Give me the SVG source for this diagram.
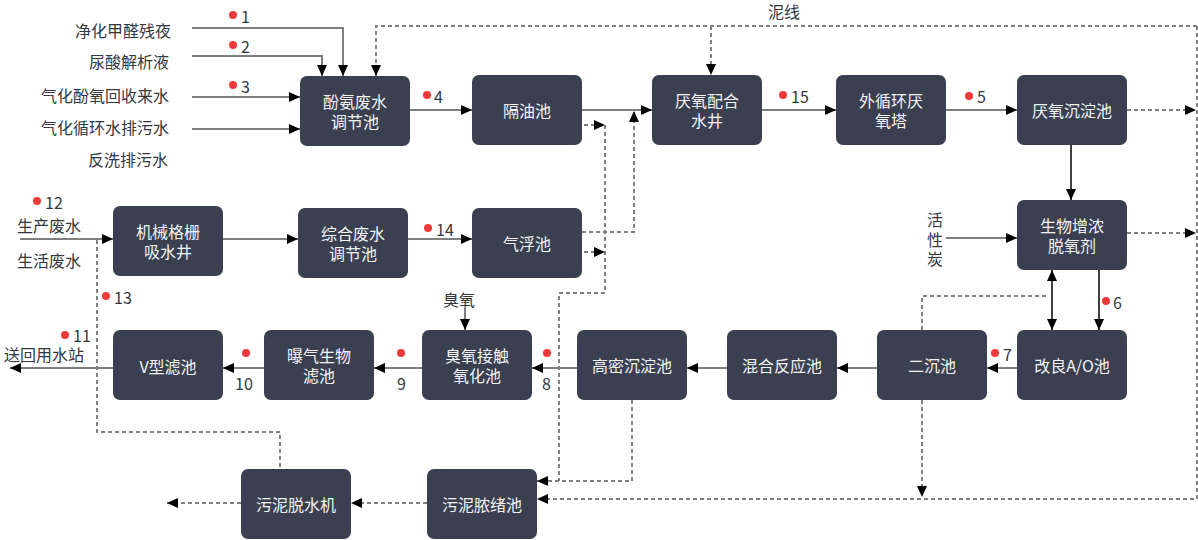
<svg xmlns="http://www.w3.org/2000/svg" width="1198" height="540" viewBox="0 0 1198 540">
<style>
.nd{fill:#3b4050}
.n{fill:#f2f3f5;font-family:"Noto Sans CJK SC","Noto Sans",sans-serif;font-size:16px;text-anchor:middle;dominant-baseline:central}
.t{fill:#333742;font-family:"Noto Sans CJK SC","Noto Sans",sans-serif;font-size:16px;dominant-baseline:central}
.e{text-anchor:end}
.m{text-anchor:middle}
.s{stroke:#7f7f7f;stroke-width:2;fill:none}
.k{stroke:#000;stroke-width:1.5;fill:none}
.d{stroke:#808080;stroke-width:2;stroke-dasharray:4 3;fill:none}
.dot{fill:#f03a3a}
</style>
<defs>
<marker id="a" markerUnits="userSpaceOnUse" markerWidth="11" markerHeight="10" refX="11" refY="5" orient="auto-start-reverse" viewBox="0 0 11 10">
<path d="M0,0 L11,5 L0,10 z" fill="#000"/>
</marker>
</defs>
<g id="connectors">
<path class="s" d="M192,28 H343 V76" marker-end="url(#a)"/>
<path class="s" d="M192,56 H322 V76" marker-end="url(#a)"/>
<path class="s" d="M192,97 H300" marker-end="url(#a)"/>
<path class="s" d="M192,129 H300" marker-end="url(#a)"/>
<path class="d" d="M711,26 V75" marker-end="url(#a)"/>
<path class="d" d="M1197,26 H376 V76" marker-end="url(#a)"/>
<path class="d" d="M1197,26 V499 H537" marker-end="url(#a)"/>
<path class="s" d="M410,110 H472" marker-end="url(#a)"/>
<path class="s" d="M582,110 H652" marker-end="url(#a)"/>
<path class="s" d="M762,110 H836" marker-end="url(#a)"/>
<path class="s" d="M946,110 H1017" marker-end="url(#a)"/>
<path class="d" d="M1127,110 H1196" marker-end="url(#a)"/>
<path class="k" d="M1071,145 V200" marker-end="url(#a)"/>
<path class="d" d="M1127,233 H1196" marker-end="url(#a)"/>
<path class="s" d="M946,238 H1017" marker-end="url(#a)"/>
<path class="k" d="M1052,270 V330" marker-start="url(#a)" marker-end="url(#a)"/>
<path class="k" d="M1099,270 V330" marker-end="url(#a)"/>
<path class="d" d="M922,330 V296 H1049"/>
<path class="d" d="M922,400 V497" marker-end="url(#a)"/>
<path class="s" d="M1017,368 H987" marker-end="url(#a)"/>
<path class="s" d="M877,368 H837" marker-end="url(#a)"/>
<path class="s" d="M727,368 H687" marker-end="url(#a)"/>
<path class="s" d="M577,368 H532" marker-end="url(#a)"/>
<path class="s" d="M422,368 H374" marker-end="url(#a)"/>
<path class="s" d="M264,368 H223" marker-end="url(#a)"/>
<path class="s" d="M113,368 H10" marker-end="url(#a)"/>
<path class="s" d="M465,308 V330" marker-end="url(#a)"/>
<path class="d" d="M584,125 H605" marker-end="url(#a)"/>
<path class="d" d="M605,125 V293 H559 V481"/>
<path class="d" d="M632,400 V481 H537" marker-end="url(#a)"/>
<path class="d" d="M582,232 H634 V111" marker-end="url(#a)"/>
<path class="d" d="M584,252 H605" marker-end="url(#a)"/>
<path class="s" d="M20,239 H113" marker-end="url(#a)"/>
<path class="s" d="M223,239 H298" marker-end="url(#a)"/>
<path class="s" d="M408,239 H472" marker-end="url(#a)"/>
<path class="d" d="M97,240 V432 H280 V470"/>
<path class="d" d="M427,503 H351" marker-end="url(#a)"/>
<path class="d" d="M241,503 H167" marker-end="url(#a)"/>
</g>
<g id="n1"><rect class="nd" x="300" y="76" width="110" height="70" rx="7"/><text class="n"><tspan x="355" y="101">酚氨废水</tspan><tspan x="355" y="121">调节池</tspan></text></g>
<g id="n2"><rect class="nd" x="472" y="75" width="110" height="70" rx="7"/><text class="n" x="527" y="110">隔油池</text></g>
<g id="n3"><rect class="nd" x="652" y="75" width="110" height="70" rx="7"/><text class="n"><tspan x="707" y="100">厌氧配合</tspan><tspan x="707" y="120">水井</tspan></text></g>
<g id="n4"><rect class="nd" x="836" y="75" width="110" height="70" rx="7"/><text class="n"><tspan x="891" y="100">外循环厌</tspan><tspan x="891" y="120">氧塔</tspan></text></g>
<g id="n5"><rect class="nd" x="1017" y="75" width="110" height="70" rx="7"/><text class="n" x="1072" y="110">厌氧沉淀池</text></g>
<g id="n6"><rect class="nd" x="113" y="206" width="110" height="70" rx="7"/><text class="n"><tspan x="168" y="231">机械格栅</tspan><tspan x="168" y="251">吸水井</tspan></text></g>
<g id="n7"><rect class="nd" x="298" y="208" width="110" height="70" rx="7"/><text class="n"><tspan x="353" y="233">综合废水</tspan><tspan x="353" y="253">调节池</tspan></text></g>
<g id="n8"><rect class="nd" x="472" y="208" width="110" height="70" rx="7"/><text class="n" x="527" y="243">气浮池</text></g>
<g id="n9"><rect class="nd" x="1017" y="200" width="110" height="70" rx="7"/><text class="n"><tspan x="1072" y="225">生物增浓</tspan><tspan x="1072" y="245">脱氧剂</tspan></text></g>
<g id="n10"><rect class="nd" x="113" y="330" width="110" height="70" rx="7"/><text class="n" x="168" y="366">V型滤池</text></g>
<g id="n11"><rect class="nd" x="264" y="330" width="110" height="70" rx="7"/><text class="n"><tspan x="319" y="355">曝气生物</tspan><tspan x="319" y="375">滤池</tspan></text></g>
<g id="n12"><rect class="nd" x="422" y="330" width="110" height="70" rx="7"/><text class="n"><tspan x="477" y="355">臭氧接触</tspan><tspan x="477" y="375">氧化池</tspan></text></g>
<g id="n13"><rect class="nd" x="577" y="330" width="110" height="70" rx="7"/><text class="n" x="632" y="365">高密沉淀池</text></g>
<g id="n14"><rect class="nd" x="727" y="330" width="110" height="70" rx="7"/><text class="n" x="782" y="365">混合反应池</text></g>
<g id="n15"><rect class="nd" x="877" y="330" width="110" height="70" rx="7"/><text class="n" x="932" y="365">二沉池</text></g>
<g id="n16"><rect class="nd" x="1017" y="330" width="110" height="70" rx="7"/><text class="n" x="1072" y="365">改良A/O池</text></g>
<g id="n17"><rect class="nd" x="241" y="469" width="110" height="70" rx="7"/><text class="n" x="296" y="504">污泥脱水机</text></g>
<g id="n18"><rect class="nd" x="427" y="469" width="110" height="70" rx="7"/><text class="n" x="482" y="504">污泥脓绪池</text></g>
<g id="labels">
<text class="t e" x="171" y="30">净化甲醛残夜</text>
<text class="t e" x="169" y="61">尿酸解析液</text>
<text class="t e" x="169" y="95">气化酚氧回收来水</text>
<text class="t e" x="169" y="127">气化循环水排污水</text>
<text class="t e" x="168" y="159">反洗排污水</text>
<text class="t" x="768" y="11">泥线</text>
<text class="t" x="17" y="225">生产废水</text>
<text class="t" x="17" y="260">生活废水</text>
<text class="t m"><tspan x="935" y="219">活</tspan><tspan x="935" y="239">性</tspan><tspan x="935" y="258">炭</tspan></text>
<text class="t" x="443" y="299">臭氧</text>
<text class="t" x="4" y="354">送回用水站</text>
<text class="t" x="73" y="335">11</text><circle class="dot" cx="65" cy="335" r="4"/>
<circle class="dot" cx="233" cy="15" r="4"/><text class="t" x="241" y="16">1</text>
<circle class="dot" cx="233" cy="45" r="4"/><text class="t" x="241" y="46">2</text>
<circle class="dot" cx="233" cy="85" r="4"/><text class="t" x="241" y="86">3</text>
<circle class="dot" cx="427" cy="95" r="4"/><text class="t" x="434" y="96">4</text>
<circle class="dot" cx="783" cy="95" r="4"/><text class="t" x="791" y="96">15</text>
<circle class="dot" cx="969" cy="96" r="4"/><text class="t" x="977" y="96">5</text>
<circle class="dot" cx="37" cy="201" r="4"/><text class="t" x="45" y="202">12</text>
<circle class="dot" cx="106" cy="296" r="4"/><text class="t" x="114" y="297">13</text>
<circle class="dot" cx="428" cy="228" r="4"/><text class="t" x="436" y="229">14</text>
<circle class="dot" cx="1106" cy="301" r="4"/><text class="t" x="1113" y="302">6</text>
<circle class="dot" cx="995" cy="353" r="4"/><text class="t" x="1003" y="354">7</text>
<circle class="dot" cx="547" cy="353" r="4"/><text class="t" x="542" y="383">8</text>
<circle class="dot" cx="401" cy="353" r="4"/><text class="t" x="397" y="383">9</text>
<circle class="dot" cx="246" cy="353" r="4"/><text class="t" x="235" y="383">10</text>
</g>
</svg>
